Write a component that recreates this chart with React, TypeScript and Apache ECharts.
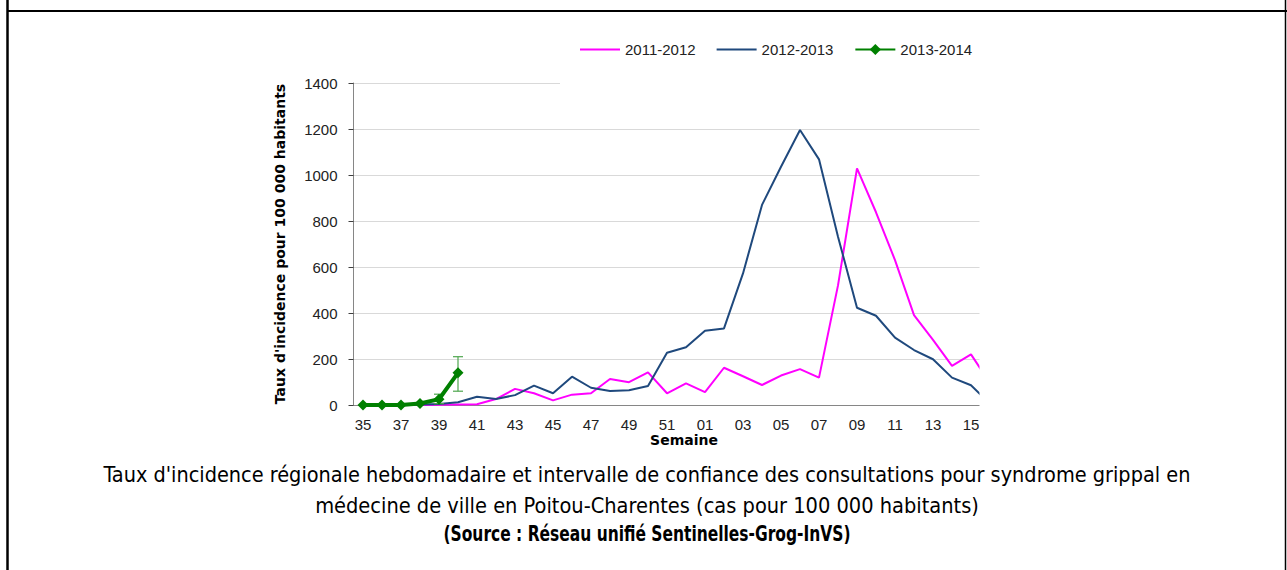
import React, { useEffect, useRef } from "react";
import * as echarts from "echarts";

const weeks = [
  "35", "36", "37", "38", "39", "40", "41", "42", "43", "44", "45", "46", "47", "48", "49", "50", "51", "52",
  "01", "02", "03", "04", "05", "06", "07", "08", "09", "10", "11", "12", "13", "14", "15", "16",
];

const season2011 = [
  0, 0, 0, 0, 1, 2, 3, 26, 70, 51, 20, 45, 51, 113, 99, 142, 51, 94,
  56, 162, 125, 87, 128, 156, 119, 520, 1029, 838, 630, 391, 283, 170, 220, 95,
];

const season2012 = [
  0, 0, 0, 2, 4, 12, 36, 26, 43, 84, 51, 123, 75, 61, 64, 83, 227, 251,
  323, 333, 572, 870, 1036, 1196, 1068, 732, 423, 388, 293, 239, 199, 119, 86, 5,
];

const season2013 = [0, 0, 0, 7, 25, 140];

// [category index, lower bound, upper bound]
const confidence2013 = [
  [4, 6, 47],
  [5, 60, 210],
];

const yTicks = { min: 0, max: 1400, interval: 200 };

const titleLines = [
  "Taux d'incidence régionale hebdomadaire et intervalle de confiance des consultations pour syndrome grippal en",
  "médecine de ville en Poitou-Charentes (cas pour 100 000 habitants)",
  "(Source : Réseau unifié Sentinelles-Grog-InVS)",
];

export default function App() {
  const ref = useRef<HTMLDivElement>(null);

  useEffect(() => {
    if (!ref.current) return;
    const chart = echarts.init(ref.current, undefined, { renderer: "svg" });
    const labelFont = "'Liberation Sans', Arial, sans-serif";
    const greenData = weeks.map((_, i) => (i < season2013.length ? season2013[i] : null));
    const lineIcon = "path://M0,0H40V2H0Z";

    const titleY = [474, 505, 534];
    const titleSize = [22, 22, 21];
    const titleScaleX = [0.977, 0.982, 0.82];

    chart.setOption({
      animation: false,
      backgroundColor: "#ffffff",
      grid: { left: 353.5, top: 83, width: 19 * weeks.length, height: 322, containLabel: false },
      legend: {
        left: 560,
        top: 38,
        padding: [4, 20, 30, 20],
        backgroundColor: "#ffffff",
        itemWidth: 40,
        itemHeight: 14,
        itemGap: 21,
        textStyle: { fontFamily: labelFont, fontSize: 15, color: "#222" },
        data: [
          { name: "2011-2012", icon: lineIcon },
          { name: "2012-2013", icon: lineIcon },
          { name: "2013-2014" },
        ],
        z: 10,
      },
      xAxis: {
        type: "category",
        data: weeks,
        boundaryGap: true,
        axisLine: { lineStyle: { color: "#868686", width: 1 } },
        axisTick: { interval: 0, length: 5, lineStyle: { color: "#404040" } },
        axisLabel: { interval: 1, margin: 12, fontFamily: labelFont, fontSize: 15, color: "#222" },
        splitLine: { show: false },
      },
      yAxis: {
        type: "value",
        min: yTicks.min,
        max: yTicks.max,
        interval: yTicks.interval,
        name: "Taux d'incidence pour 100 000 habitants",
        nameLocation: "middle",
        nameGap: 67,
        nameTextStyle: { fontFamily: "'DejaVu Sans', sans-serif", fontWeight: "bold", fontSize: 14, color: "#000" },
        axisLine: { show: true, lineStyle: { color: "#868686", width: 1 } },
        axisTick: { show: true, length: 5, lineStyle: { color: "#404040" } },
        axisLabel: {
          margin: 16,
          fontFamily: labelFont,
          fontSize: 15,
          color: "#222",
          formatter: (v: number) => String(v),
        },
        splitLine: { lineStyle: { color: "#d9d9d9", width: 1 } },
      },
      series: [
        {
          name: "2011-2012",
          type: "line",
          data: season2011,
          symbol: "none",
          lineStyle: { color: "#ff00ff", width: 2 },
          itemStyle: { color: "#ff00ff" },
          z: 2,
        },
        {
          name: "2012-2013",
          type: "line",
          data: season2012,
          symbol: "none",
          lineStyle: { color: "#1f497d", width: 2 },
          itemStyle: { color: "#1f497d" },
          z: 3,
        },
        {
          name: "CI",
          type: "custom",
          data: confidence2013,
          encode: { x: 0, y: [1, 2] },
          z: 4,
          renderItem: (params: any, api: any) => {
            const idx = api.value(0);
            const lo = api.coord([idx, api.value(1)]);
            const hi = api.coord([idx, api.value(2)]);
            const hw = 5;
            const style = { stroke: "#4ea64e", lineWidth: 1.2 };
            return {
              type: "group",
              children: [
                { type: "line", shape: { x1: lo[0], y1: lo[1], x2: hi[0], y2: hi[1] }, style },
                { type: "line", shape: { x1: hi[0] - hw, y1: hi[1], x2: hi[0] + hw, y2: hi[1] }, style },
                { type: "line", shape: { x1: lo[0] - hw, y1: lo[1], x2: lo[0] + hw, y2: lo[1] }, style },
              ],
            };
          },
        },
        {
          name: "2013-2014",
          type: "line",
          data: greenData,
          symbol: "diamond",
          symbolSize: 11,
          showAllSymbol: true,
          lineStyle: { color: "#008000", width: 4 },
          itemStyle: { color: "#008000" },
          z: 5,
        },
      ],
      graphic: [
        // crop of the plot on the right
        { type: "rect", z: 100, shape: { x: 979.5, y: 60, width: 40, height: 390 }, style: { fill: "#ffffff" } },
        // frame
        { type: "line", z: 101, shape: { x1: 7.5, y1: 0, x2: 7.5, y2: 570 }, style: { stroke: "#000", lineWidth: 2.5 } },
        { type: "line", z: 101, shape: { x1: 1285.5, y1: 0, x2: 1285.5, y2: 570 }, style: { stroke: "#000", lineWidth: 1.5 } },
        { type: "line", z: 101, shape: { x1: 7, y1: 11, x2: 1287, y2: 11 }, style: { stroke: "#000", lineWidth: 2 } },
        {
          type: "text",
          z: 101,
          x: 684,
          y: 440,
          style: {
            text: "Semaine",
            fontFamily: "'DejaVu Sans', sans-serif",
            fontWeight: "bold",
            fontSize: 14,
            fill: "#000",
            align: "center",
            verticalAlign: "middle",
            textAlign: "center",
            textVerticalAlign: "middle",
          },
        },
        ...titleLines.map((t, i) => ({
          type: "text",
          z: 101,
          x: 647,
          y: titleY[i],
          scaleX: titleScaleX[i],
          style: {
            text: t,
            fontFamily: "'DejaVu Sans Condensed', 'DejaVu Sans', sans-serif",
            fontWeight: i === 2 ? "bold" : "normal",
            fontSize: titleSize[i],
            fill: "#000",
            align: "center",
            verticalAlign: "middle",
            textAlign: "center",
            textVerticalAlign: "middle",
          },
        })),
      ],
    });

    return () => chart.dispose();
  }, []);

  return (
    <div
      ref={ref}
      style={{ position: "fixed", left: 0, top: 0, width: 1287, height: 570, background: "#fff" }}
    />
  );
}
